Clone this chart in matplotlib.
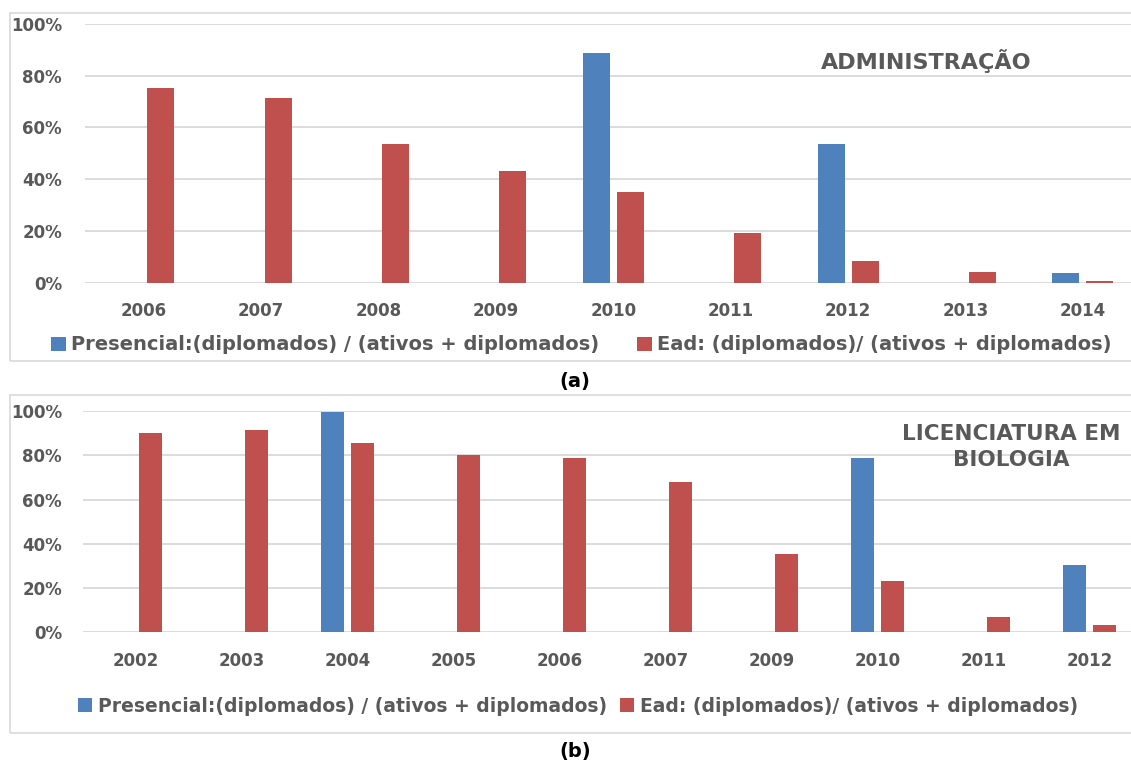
import matplotlib.pyplot as plt
import numpy as np
from matplotlib.patches import Rectangle
from matplotlib.ticker import PercentFormatter

# (a) Administração
anos_a = ["2006", "2007", "2008", "2009", "2010", "2011", "2012", "2013", "2014"]
presencial_a = [0, 0, 0, 0, 0.888, 0, 0.537, 0, 0.038]
ead_a = [0.753, 0.714, 0.537, 0.432, 0.352, 0.191, 0.085, 0.041, 0.004]

# (b) Licenciatura em Biologia
anos_b = ["2002", "2003", "2004", "2005", "2006", "2007", "2009", "2010", "2011", "2012"]
presencial_b = [0, 0, 0.997, 0, 0, 0, 0, 0.789, 0, 0.304]
ead_b = [0.900, 0.916, 0.854, 0.802, 0.788, 0.679, 0.352, 0.232, 0.068, 0.033]

lab_pres = "Presencial:(diplomados) / (ativos + diplomados)"
lab_ead = "Ead: (diplomados)/ (ativos + diplomados)"

azul = "#4F81BD"
verm = "#C0504D"
cinza = "#595959"
grade = "#D9D9D9"

W, H = 1131, 763
fig = plt.figure(figsize=(W / 100, H / 100), dpi=100)


def px(x0, y_top, w, h):
    # pixel box -> figure fraction
    return [x0 / W, 1 - (y_top + h) / H, w / W, h / H]


def painel(ax, anos, pres, ead, larg, desl, ypad):
    x = np.arange(len(anos))
    hp = ax.bar(x - desl, pres, larg, color=azul, label=lab_pres)
    he = ax.bar(x + desl, ead, larg, color=verm, label=lab_ead)
    ax.set_xlim(-0.5, len(anos) - 0.5)
    ax.set_ylim(0, 1)
    ax.set_yticks([0, 0.2, 0.4, 0.6, 0.8, 1.0])
    ax.yaxis.set_major_formatter(PercentFormatter(1.0, decimals=0))
    ax.set_xticks(x)
    ax.set_xticklabels(anos)
    ax.grid(axis="y", color=grade, lw=1.3)
    ax.set_axisbelow(True)
    for s in ax.spines.values():
        s.set_visible(False)
    ax.tick_params(axis="both", length=0, labelcolor=cinza)
    ax.tick_params(axis="x", pad=14)
    ax.tick_params(axis="y", pad=ypad)
    for t in ax.get_xticklabels() + ax.get_yticklabels():
        t.set_fontweight("bold")
        t.set_fontsize(12)
    return hp, he


ax1 = fig.add_axes(px(85, 24, 9 * 117.4, 258.5))
h1p, h1e = painel(ax1, anos_a, presencial_a, ead_a, 0.23, 0.145, 16.5)
ax1.text(926 / W, 1 - 61 / H, "ADMINISTRAÇÃO", transform=fig.transFigure,
         ha="center", va="center", fontsize=16, fontweight="bold",
         color=cinza)

ax2 = fig.add_axes(px(82.5, 411, 10 * 106, 221.3))
h2p, h2e = painel(ax2, anos_b, presencial_b, ead_b, 0.226, 0.1415, 14.8)
ax2.text(1011 / W, 1 - 447 / H, "LICENCIATURA EM\nBIOLOGIA", transform=fig.transFigure,
         ha="center", va="center", fontsize=15.5, fontweight="bold",
         color=cinza, linespacing=1.35)

# legendas
leg_kw = dict(loc="center left", frameon=False, borderpad=0, borderaxespad=0,
              handlelength=0.75, handleheight=0.75, handletextpad=0.3,
              labelcolor=cinza)
for h, lab, x0, y0, tam in [(h1p, lab_pres, 51, 345, 14), (h1e, lab_ead, 637, 345, 14),
                            (h2p, lab_pres, 78, 706, 13.5), (h2e, lab_ead, 620, 706, 13.5)]:
    fig.legend([h], [lab], bbox_to_anchor=(x0 / W, 1 - y0 / H),
               prop={"weight": "bold", "size": tam}, **leg_kw)

fig.text(575 / W, 1 - 381 / H, "(a)", ha="center", va="center",
         fontsize=14, fontweight="bold", color="black")
fig.text(575 / W, 1 - 751 / H, "(b)", ha="center", va="center",
         fontsize=14, fontweight="bold", color="black")

# molduras
for y0, y1 in [(13.3, 360.7), (394.8, 732.5)]:
    fig.patches.append(Rectangle((9.5 / W, 1 - y1 / H), 1200 / W, (y1 - y0) / H,
                                 transform=fig.transFigure, fill=False,
                                 edgecolor=grade, lw=1.2, zorder=0))

fig.savefig("out.png", dpi=100)
